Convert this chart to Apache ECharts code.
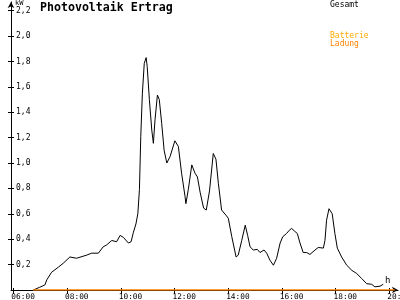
<!DOCTYPE html>
<html><head><meta charset="utf-8">
<script src="https://cdn.jsdelivr.net/npm/echarts@6/dist/echarts.min.js"></script>
<style>html,body{margin:0;padding:0;background:#fff}#c{width:400px;height:300px}</style>
</head><body><div id="c"></div>
<script>
// time in hours, power in kW
var gesamtTime = [6.74,6.96,7.17,7.24,7.42,7.67,7.85,8.10,8.17,8.35,8.73,8.91,9.16,9.34,9.47,9.66,9.84,9.97,10.09,10.28,10.38,10.46,10.56,10.63,10.69,10.74,10.80,10.87,10.94,10.98,11.06,11.15,11.21,11.27,11.36,11.43,11.52,11.61,11.71,11.83,12.01,12.14,12.26,12.39,12.42,12.51,12.64,12.76,12.85,12.95,13.08,13.18,13.30,13.44,13.54,13.63,13.75,13.91,14.00,14.13,14.29,14.37,14.50,14.63,14.72,14.81,14.93,15.08,15.18,15.33,15.43,15.55,15.68,15.80,15.93,16.03,16.17,16.27,16.36,16.46,16.57,16.67,16.79,16.92,17.04,17.23,17.35,17.54,17.60,17.66,17.75,17.81,17.87,17.97,18.06,18.22,18.41,18.60,18.78,18.97,19.15,19.34,19.46,19.65,19.77];
var gesamtKW = [0,0.02,0.04,0.08,0.14,0.18,0.21,0.26,0.27,0.25,0.275,0.29,0.29,0.34,0.355,0.39,0.38,0.43,0.415,0.37,0.38,0.45,0.52,0.60,0.79,1.21,1.55,1.785,1.83,1.76,1.50,1.26,1.155,1.34,1.535,1.50,1.31,1.10,1.00,1.05,1.175,1.13,0.92,0.735,0.68,0.79,0.985,0.92,0.89,0.77,0.645,0.63,0.78,1.075,1.03,0.84,0.63,0.59,0.565,0.42,0.26,0.275,0.39,0.51,0.43,0.34,0.315,0.32,0.295,0.315,0.29,0.235,0.195,0.25,0.37,0.42,0.445,0.47,0.485,0.465,0.445,0.37,0.295,0.295,0.28,0.315,0.335,0.33,0.39,0.55,0.64,0.655,0.60,0.445,0.33,0.26,0.195,0.155,0.13,0.09,0.05,0.045,0.025,0.03,0.045];
var ladungTime = [6.73, 20.2];
var ladungKW = [0, 0];
var xTicks = [6,8,10,12,14,16,18,20];
var yTicks = [0.2,0.4,0.6,0.8,1.0,1.2,1.4,1.6,1.8,2.0,2.2];

var FONT = 'DejaVu Sans Mono';
function pairs(a,b){return a.map(function(v,i){return [v,b[i]];});}
var chart = echarts.init(document.getElementById('c'), null, {renderer:'canvas'});
var tStyle = function(txt,left,top,size,color,bold){
  return {text:txt,left:left,top:top,padding:0,itemGap:0,
    textStyle:{fontFamily:FONT,fontSize:size,color:color,fontWeight:bold?'bold':'normal'}};
};
var xLabelPos = xTicks.map(function(v){return v-0.08;});
chart.setOption({
  animation:false,
  backgroundColor:'#fff',
  title:[
    tStyle('Photovoltaik Ertrag',40,2,11.6,'#000',true),
    tStyle('kW',15,0,7,'#000',false),
    tStyle('Gesamt',330,1,8,'#000',false),
    tStyle('Batterie',330,32,8,'#ffaa00',false),
    tStyle('Ladung',330,40,8,'#ff8000',false),
    tStyle('h',385,276,9,'#000',false)
  ],
  grid:{left:11,right:2,top:2,bottom:10,containLabel:false,outerBoundsMode:'none'},
  xAxis:[{
    type:'value',min:5.907,max:20.32,
    axisLine:{lineStyle:{color:'#000',width:1},symbol:['none','arrow'],symbolSize:[5,6]},
    axisTick:{show:true,length:4,customValues:xTicks,lineStyle:{color:'#000'}},
    axisLabel:{show:true,customValues:xLabelPos,align:'left',alignMinLabel:'left',alignMaxLabel:'left',
      margin:3,fontFamily:FONT,fontSize:7.8,color:'#000',
      showMinLabel:true,showMaxLabel:true,hideOverlap:false,
      formatter:function(v){var h=Math.round(v);return (h<10?'0':'')+h+':00';}},
    splitLine:{show:false}
  },{
    type:'value',min:5.907,max:20.32,position:'bottom',
    axisLine:{show:false},
    axisTick:{show:true,inside:true,length:2,customValues:xTicks,lineStyle:{color:'#000'}},
    axisLabel:{show:false},splitLine:{show:false}
  }],
  yAxis:[{
    type:'value',min:0,max:2.268,
    axisLine:{show:true,lineStyle:{color:'#000',width:1},symbol:['none','arrow'],symbolSize:[5,6]},
    axisTick:{show:true,length:3,customValues:yTicks,lineStyle:{color:'#000'}},
    axisLabel:{show:true,inside:true,customValues:yTicks,margin:5,align:'left',fontFamily:FONT,fontSize:8,color:'#000',
      formatter:function(v){return v.toFixed(1).replace('.',',');}},
    splitLine:{show:false}
  },{
    type:'value',min:0,max:2.268,position:'left',
    axisLine:{show:false},
    axisTick:{show:true,inside:true,length:3,customValues:yTicks,lineStyle:{color:'#000'}},
    axisLabel:{show:false},splitLine:{show:false}
  }],
  series:[{
    name:'Gesamt',type:'line',data:pairs(gesamtTime,gesamtKW),showSymbol:false,
    lineStyle:{color:'#000',width:1},itemStyle:{color:'#000'},z:3
  },{
    name:'Batterie Ladung',type:'line',data:pairs(ladungTime,ladungKW),showSymbol:false,
    lineStyle:{color:'#ff8000',width:1.5},itemStyle:{color:'#ff8000'},z:4
  }]
});
</script></body></html>
